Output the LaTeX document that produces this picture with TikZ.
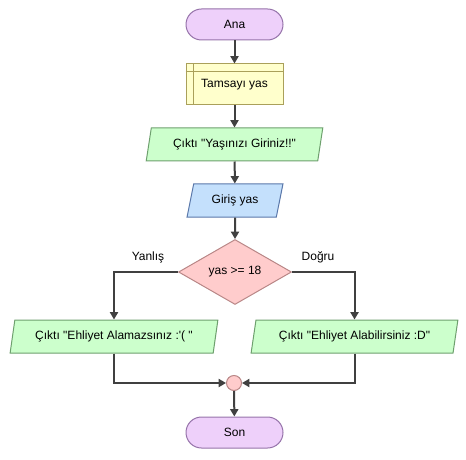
\documentclass[tikz,border=0pt]{standalone}
\usepackage{fontspec}
\setmainfont{Liberation Sans}[Ligatures=TeXOff]
\usetikzlibrary{shapes.geometric,arrows.meta}

\definecolor{termfill}{RGB}{238,208,250}
\definecolor{termline}{RGB}{150,115,170}
\definecolor{declfill}{RGB}{255,255,204}
\definecolor{declline}{RGB}{170,160,90}
\definecolor{outfill}{RGB}{204,255,204}
\definecolor{outline}{RGB}{110,160,110}
\definecolor{infill}{RGB}{196,224,252}
\definecolor{inline}{RGB}{90,120,170}
\definecolor{decfill}{RGB}{255,204,204}
\definecolor{decline}{RGB}{185,135,135}
\definecolor{arrline}{RGB}{64,64,64}

\begin{document}
\begin{tikzpicture}[
    x=0.75pt, y=-0.75pt,
    every node/.style={font=\fontsize{9}{11}\selectfont, inner sep=0pt},
    term/.style={draw=termline, fill=termfill, line width=0.75pt,
                 rounded corners=11.6pt, minimum width=72.75pt, minimum height=23.25pt},
    decl/.style={draw=declline, fill=declfill, line width=0.75pt,
                 minimum width=72.75pt, minimum height=30.75pt},
    io/.style={trapezium, trapezium left angle=71.6, trapezium right angle=108.4,
               trapezium stretches=true, line width=0.75pt, minimum height=24.75pt},
    outbox/.style={io, draw=outline, fill=outfill},
    inbox/.style={io, draw=inline, fill=infill},
    cond/.style={diamond, draw=decline, fill=decfill, line width=0.75pt,
                 minimum width=84.75pt, minimum height=48.75pt},
    joindot/.style={circle, draw=decline, fill=decfill, line width=0.75pt,
                 minimum size=11.25pt},
    arr/.style={-{Triangle[width=6pt,length=5.5pt]}, draw=arrline, line width=1.5pt}
  ]
    \useasboundingbox (0,0) rectangle (466,459);

    \node[term]   (ana)    at (234.5, 24.5)  {Ana};
    \node[decl]   (tam)    at (234.5, 84.5)  {\raisebox{-3pt}{Tamsayı yas}};
    \node[outbox, minimum width=132.75pt] (yaz1) at (234.5,144.5) {Çıktı "Yaşınızı Giriniz!!"};
    \node[inbox,  minimum width=72pt]     (gir)  at (235, 200.5)  {Giriş yas};
    \node[cond]   (karar)  at (235, 272)     {yas >= 18};
    \node[outbox, minimum width=156pt]    (yazL) at (114, 336.5)  {Çıktı "Ehliyet Alamazsınız :'( "};
    \node[outbox, minimum width=155.25pt] (yazR) at (354.5,336.5) {Çıktı "Ehliyet Alabilirsiniz :D"};
    \node[joindot] (birles) at (234, 383)    {};
    \node[term]   (son)    at (234.5,432.5)  {Son};

    % declare box inner lines
    \draw[declline, line width=0.75pt] ([xshift=6pt]tam.north west) -- ([xshift=6pt]tam.south west);
    \draw[declline, line width=0.75pt] ([yshift=-6pt]tam.north west) -- ([yshift=-6pt]tam.north east);

    \node (yanlis) at (148,257) {Yanlış};
    \node (dogru)  at (318,257) {Doğru};

    \draw[arr] (ana)  -- (tam);
    \draw[arr] (tam)  -- (yaz1);
    \draw[arr] (yaz1) -- (gir);
    \draw[arr] (gir)  -- (karar);
    \draw[arr] (karar.west) -| (yazL.north);
    \draw[arr] (karar.east) -| (yazR.north);
    \draw[arr] (yazL.south) |- (birles.west);
    \draw[arr] (yazR.south) |- (birles.east);
    \draw[arr] (birles) -- (son);
  \end{tikzpicture}
\end{document}
